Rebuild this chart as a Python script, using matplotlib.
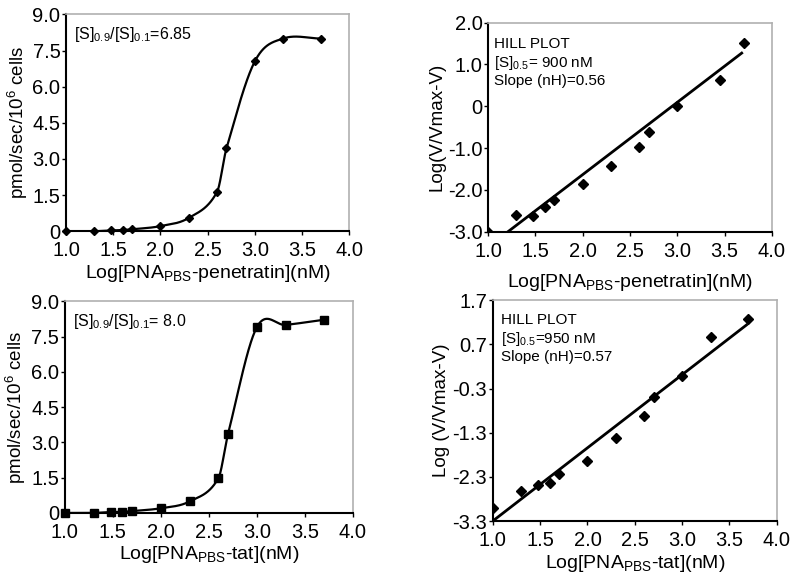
import numpy as np
import matplotlib
matplotlib.use("Agg")
import matplotlib.pyplot as plt

plt.rcParams['font.family'] = ['Liberation Sans', 'DejaVu Sans']
plt.rcParams['mathtext.fontset'] = 'custom'
plt.rcParams['mathtext.rm'] = 'Liberation Sans'
plt.rcParams['mathtext.it'] = 'Liberation Sans'
plt.rcParams['mathtext.default'] = 'regular'

# ---- data ----
pen_x = [1.0, 1.3, 1.477, 1.6, 1.7, 2.0, 2.3, 2.6, 2.7, 3.0, 3.3, 3.7]
pen_y = [0.0, 0.0, 0.03, 0.05, 0.08, 0.21, 0.55, 1.63, 3.44, 7.05, 8.0, 8.0]

hill_pen_x = [1.0, 1.3, 1.477, 1.6, 1.7, 2.0, 2.3, 2.6, 2.7, 3.0, 3.45, 3.7]
hill_pen_y = [-3.0, -2.6, -2.62, -2.41, -2.24, -1.85, -1.44, -0.98, -0.62, 0.01, 0.63, 1.52]
hill_pen_fit_x = [1.21, 3.68]
hill_pen_fit_y = [-3.0, 1.27]

tat_x = [1.0, 1.3, 1.477, 1.6, 1.7, 2.0, 2.3, 2.6, 2.7, 3.0, 3.3, 3.7]
tat_y = [0.0, 0.0, 0.04, 0.05, 0.08, 0.2, 0.49, 1.48, 3.36, 7.9, 8.0, 8.22]

hill_tat_x = [1.0, 1.3, 1.477, 1.6, 1.7, 2.0, 2.3, 2.6, 2.7, 3.0, 3.3, 3.7]
hill_tat_y = [-3.0, -2.61, -2.49, -2.44, -2.24, -1.93, -1.42, -0.92, -0.5, -0.02, 0.87, 1.27]
hill_tat_fit_x = [1.0, 3.68]
hill_tat_fit_y = [-3.3, 1.14]

xticks = [1.0, 1.5, 2.0, 2.5, 3.0, 3.5, 4.0]
rate_ticks = [0, 1.5, 3.0, 4.5, 6.0, 7.5, 9.0]
rate_ticklabels = ['0', '1.5', '3.0', '4.5', '6.0', '7.5', '9.0']
hill_pen_ticks = [-3.0, -2.0, -1.0, 0, 1.0, 2.0]
hill_pen_ticklabels = ['-3.0', '-2.0', '-1.0', '0', '1.0', '2.0']
hill_tat_ticks = [-3.3, -2.3, -1.3, -0.3, 0.7, 1.7]
hill_tat_ticklabels = ['-3.3', '-2.3', '-1.3', '-0.3', '0.7', '1.7']


def smooth_curve(x, y, per_seg=60):
    """Cubic Hermite (Catmull-Rom style) curve through the data points."""
    x = np.asarray(x, float); y = np.asarray(y, float)
    k = len(x)
    m = np.empty(k)
    m[0] = (y[1] - y[0]) / (x[1] - x[0])
    m[-1] = (y[-1] - y[-2]) / (x[-1] - x[-2])
    for i in range(1, k - 1):
        m[i] = (y[i + 1] - y[i - 1]) / (x[i + 1] - x[i - 1])
    xs_all, ys_all = [], []
    for i in range(k - 1):
        h = x[i + 1] - x[i]
        t = np.linspace(0, 1, per_seg)
        h00 = 2 * t**3 - 3 * t**2 + 1
        h10 = t**3 - 2 * t**2 + t
        h01 = -2 * t**3 + 3 * t**2
        h11 = t**3 - t**2
        xs_all.append(x[i] + t * h)
        ys_all.append(h00 * y[i] + h10 * h * m[i] + h01 * y[i + 1] + h11 * h * m[i + 1])
    return np.concatenate(xs_all), np.concatenate(ys_all)


def style(ax):
    for s in ['top', 'right']:
        ax.spines[s].set_color('#b0b0b0')
        ax.spines[s].set_linewidth(1.2)
    for s in ['left', 'bottom']:
        ax.spines[s].set_color('black')
        ax.spines[s].set_linewidth(1.5)
    ax.tick_params(axis='both', labelsize=14.5, length=3, width=1)
    ax.tick_params(axis='y', pad=1)
    ax.tick_params(axis='x', pad=4)
    ax.set_xlim(1.0, 4.0)
    ax.set_xticks(xticks)
    ax.set_xticklabels([f'{t:.1f}' for t in xticks])


fig = plt.figure(figsize=(8, 5.78), dpi=100)

# panel 1
ax1 = fig.add_axes([0.0825, 0.600, 0.354, 0.375])
xs, ys = smooth_curve(pen_x, pen_y)
ax1.plot(xs, ys, color='black', lw=1.6)
ax1.plot(pen_x, pen_y, 'D', color='black', ms=4, clip_on=False)
ax1.set_ylim(0, 9.0)
style(ax1)
ax1.set_yticks(rate_ticks)
ax1.set_yticklabels(rate_ticklabels)
ax1.set_ylabel('pmol/sec/10$^6$ cells', fontsize=13.5, labelpad=2)
ax1.set_xlabel('Log[PNA$_{PBS}$-penetratin](nM)', fontsize=14, labelpad=2)
ax1.text(0.03, 0.95, '[S]$_{0.9}$/[S]$_{0.1}$=6.85', transform=ax1.transAxes,
         fontsize=11.5, va='top', ha='left')

# panel 2
ax2 = fig.add_axes([0.61, 0.599, 0.355, 0.362])
ax2.plot(hill_pen_fit_x, hill_pen_fit_y, color='black', lw=2)
ax2.plot(hill_pen_x, hill_pen_y, 'D', color='black', ms=5)
ax2.set_ylim(-3.0, 2.0)
style(ax2)
ax2.set_yticks(hill_pen_ticks)
ax2.set_yticklabels(hill_pen_ticklabels)
ax2.set_ylabel('Log(V/Vmax-V)', fontsize=13.5, labelpad=2)
ax2.set_xlabel('Log[PNA$_{PBS}$-penetratin](nM)', fontsize=14, labelpad=8)
ax2.text(0.02, 0.93, 'HILL PLOT\n[S]$_{0.5}$= 900 nM\nSlope (nH)=0.56',
         transform=ax2.transAxes, fontsize=11, va='top', ha='left', linespacing=1.2)

# panel 3
ax3 = fig.add_axes([0.081, 0.1125, 0.36, 0.366])
xs, ys = smooth_curve(tat_x, tat_y)
ax3.plot(xs, ys, color='black', lw=1.6)
ax3.plot(tat_x, tat_y, 's', color='black', ms=6, clip_on=False)
ax3.set_ylim(0, 9.0)
style(ax3)
ax3.set_yticks(rate_ticks)
ax3.set_yticklabels(rate_ticklabels)
ax3.set_ylabel('pmol/sec/10$^6$ cells', fontsize=13.5, labelpad=2)
ax3.set_xlabel('Log[PNA$_{PBS}$-tat](nM)', fontsize=14, labelpad=2)
ax3.text(0.03, 0.95, '[S]$_{0.9}$/[S]$_{0.1}$= 8.0', transform=ax3.transAxes,
         fontsize=11.5, va='top', ha='left')

# panel 4
ax4 = fig.add_axes([0.616, 0.0986, 0.355, 0.382])
ax4.plot(hill_tat_fit_x, hill_tat_fit_y, color='black', lw=2)
ax4.plot(hill_tat_x, hill_tat_y, 'D', color='black', ms=5)
ax4.set_ylim(-3.3, 1.7)
style(ax4)
ax4.set_yticks(hill_tat_ticks)
ax4.set_yticklabels(hill_tat_ticklabels)
ax4.set_ylabel('Log (V/Vmax-V)', fontsize=13.5, labelpad=2)
ax4.set_xlabel('Log[PNA$_{PBS}$-tat](nM)', fontsize=14, labelpad=2)
ax4.text(0.03, 0.94, 'HILL PLOT\n[S]$_{0.5}$=950 nM\nSlope (nH)=0.57',
         transform=ax4.transAxes, fontsize=11, va='top', ha='left', linespacing=1.2)

fig.savefig('out.png', dpi=100)
